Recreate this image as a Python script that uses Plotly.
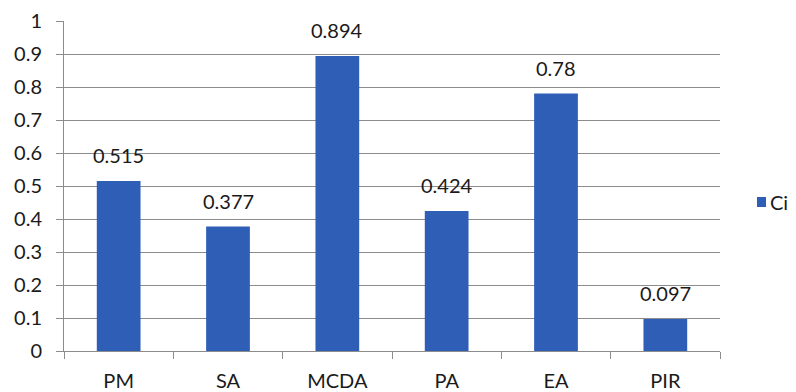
import plotly.graph_objects as go

categories = ["PM", "SA", "MCDA", "PA", "EA", "PIR"]
ci_values = [0.515, 0.377, 0.894, 0.424, 0.78, 0.097]
value_labels = ["0.515", "0.377", "0.894", "0.424", "0.78", "0.097"]
y_ticks = [0, 0.1, 0.2, 0.3, 0.4, 0.5, 0.6, 0.7, 0.8, 0.9, 1]
y_tick_labels = ["0", "0.1", "0.2", "0.3", "0.4", "0.5", "0.6", "0.7", "0.8", "0.9", "1"]
series_name = "Ci"

bar_color = "#2E5EB6"
grid_color = "#8C8C8C"
text_color = "#1a1a1a"
font_family = "Lato, Open Sans, sans-serif"

W, H = 796, 392
ML, MR, MT, MB = 64, 76, 21, 41
PW, PH = W - ML - MR, H - MT - MB

fig = go.Figure()
fig.add_trace(go.Bar(
    x=categories, y=ci_values, name=series_name,
    marker=dict(color=bar_color, line=dict(width=0)),
    showlegend=False,
))

for cat, val, lab in zip(categories, ci_values, value_labels):
    fig.add_annotation(x=cat, y=val, text=lab, showarrow=False,
                       yanchor="bottom", yshift=12,
                       font=dict(size=20, color=text_color, family=font_family))

# Legend (drawn manually to match the Excel-style compact key)
def px_x(px):
    return (px - ML) / PW

def px_y(py):
    return (H - MB - py) / PH

fig.add_shape(type="rect", xref="paper", yref="paper",
              x0=px_x(757), x1=px_x(766), y0=px_y(207), y1=px_y(197),
              fillcolor=bar_color, line=dict(width=0))
fig.add_annotation(xref="paper", yref="paper", x=px_x(768), y=px_y(202),
                   text=series_name, showarrow=False, xanchor="left", yanchor="middle",
                   font=dict(size=20, color=text_color, family=font_family))

fig.update_layout(
    width=W, height=H,
    margin=dict(l=ML, r=MR, t=MT, b=MB, autoexpand=False),
    paper_bgcolor="white", plot_bgcolor="white",
    bargap=0.6,
    font=dict(family=font_family, size=20, color=text_color),
    showlegend=False,
    xaxis=dict(
        showline=True, linecolor=grid_color, linewidth=1,
        ticks="outside", tickson="boundaries", ticklen=7, tickcolor=grid_color,
        showgrid=False, tickfont=dict(size=20), fixedrange=True,
        ticklabelstandoff=12,
    ),
    yaxis=dict(
        range=[0, 1], tickvals=y_ticks, ticktext=y_tick_labels,
        showline=True, linecolor=grid_color, linewidth=1,
        ticks="outside", ticklen=7, tickcolor=grid_color,
        showgrid=True, gridcolor=grid_color, gridwidth=1,
        zeroline=False, tickfont=dict(size=20), fixedrange=True,
        ticklabelstandoff=10,
    ),
)

fig.write_html("out.html")
